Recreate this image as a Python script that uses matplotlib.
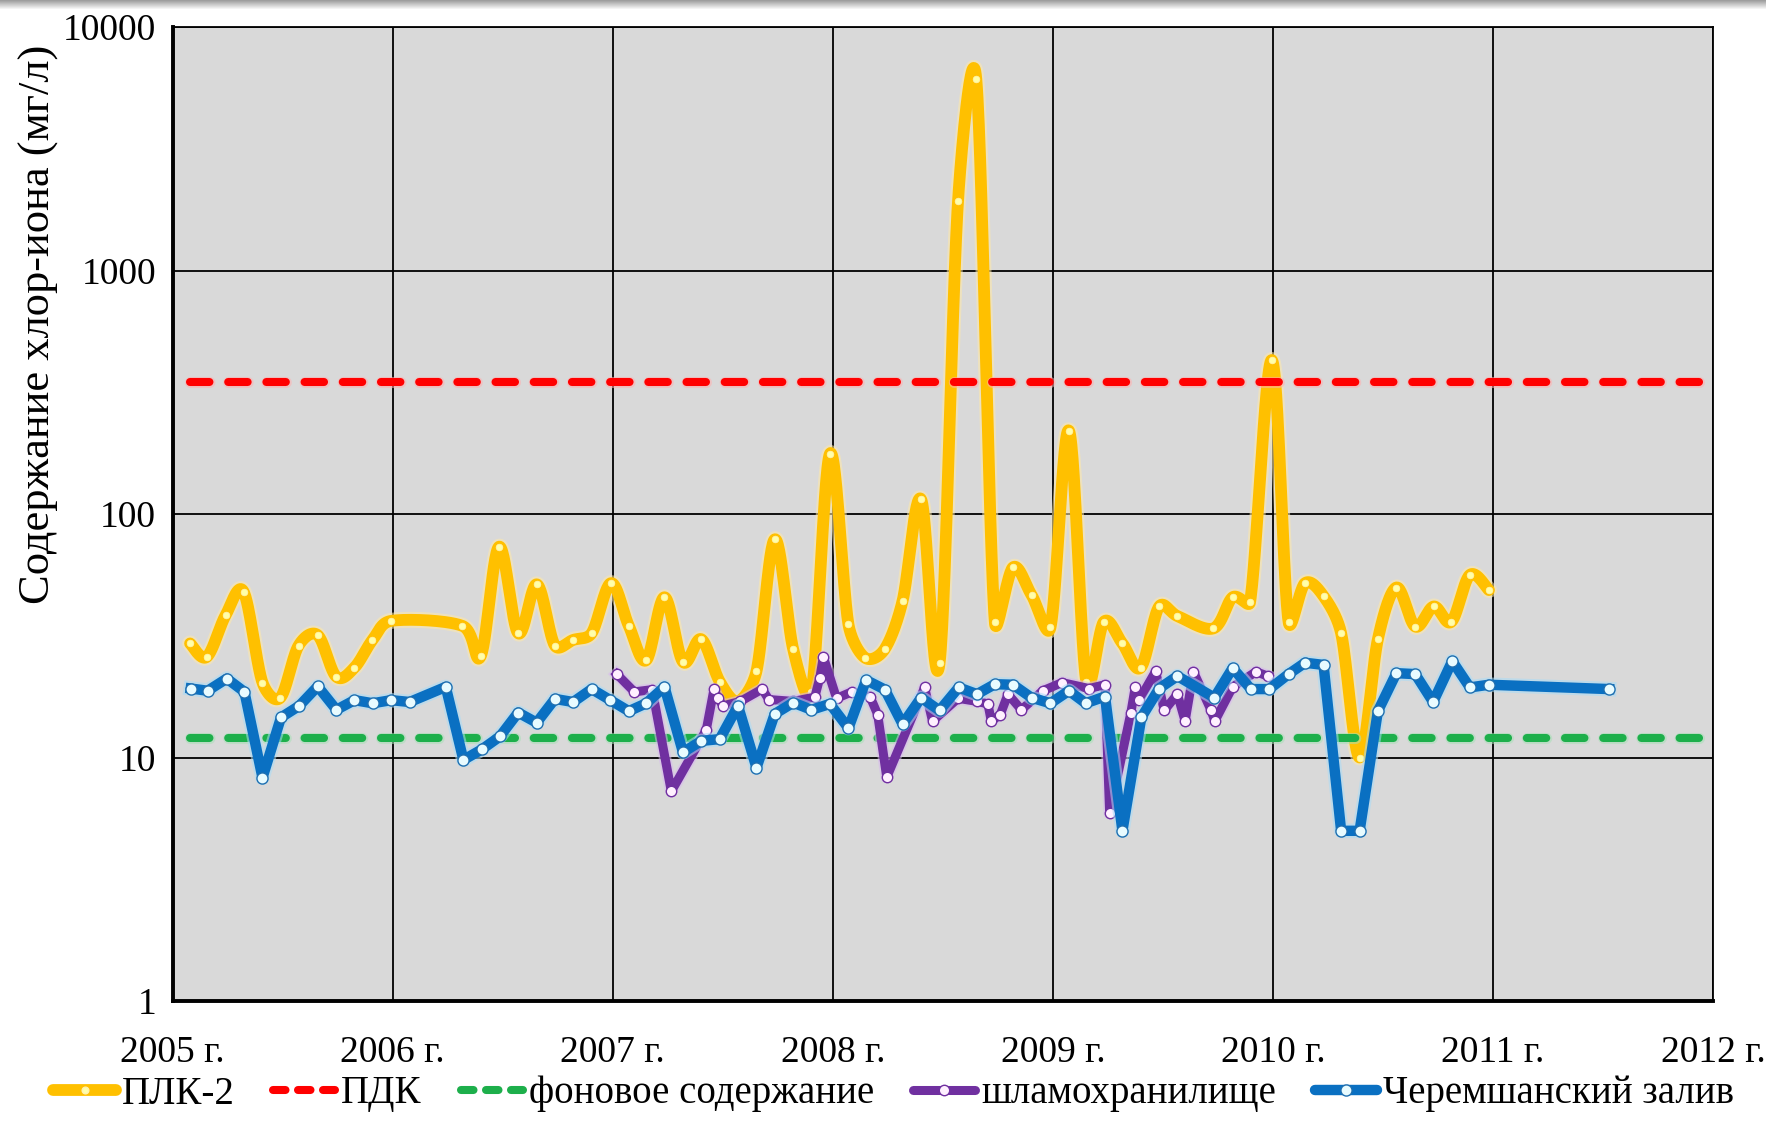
import numpy as np
import matplotlib
matplotlib.use("Agg")
import matplotlib.pyplot as plt
import matplotlib.patheffects as pe
from matplotlib.lines import Line2D
from matplotlib.ticker import FixedLocator, NullLocator

plt.rcParams['font.family'] = ['Liberation Serif', 'DejaVu Serif']
plt.rcParams['lines.scale_dashes'] = False

# ---- data: chloride-ion content, mg/l (decimal years) ----
plk2_t = [2005.079, 2005.155, 2005.241, 2005.322, 2005.408, 2005.489, 2005.572, 2005.659,
          2005.743, 2005.826, 2005.908, 2005.993, 2006.317, 2006.400, 2006.483, 2006.570,
          2006.655, 2006.737, 2006.820, 2006.904, 2006.992, 2007.073, 2007.152, 2007.235,
          2007.319, 2007.402, 2007.486, 2007.569, 2007.653, 2007.736, 2007.820, 2007.903,
          2007.987, 2008.071, 2008.146, 2008.235, 2008.317, 2008.401, 2008.485, 2008.569,
          2008.652, 2008.736, 2008.819, 2008.903, 2008.989, 2009.073, 2009.152, 2009.232,
          2009.316, 2009.399, 2009.483, 2009.566, 2009.729, 2009.817, 2009.896, 2009.995,
          2010.071, 2010.146, 2010.230, 2010.310, 2010.394, 2010.477, 2010.561, 2010.647,
          2010.731, 2010.811, 2010.895, 2010.982]
plk2_v = [29.4, 25.9, 38.5, 48, 20.3, 17.6, 28.8, 31.8,
          21.5, 23.4, 30.4, 36.4, 34.7, 26.1, 73.4, 32.4,
          51.4, 28.8, 30.4, 32.4, 52, 34.7, 25.1, 45.5,
          24.7, 30.6, 20.5, 17, 22.6, 78.7, 27.8, 18.5,
          177, 35.2, 25.7, 27.8, 44, 115, 24.4, 1936,
          6100, 36.1, 60.4, 46.5, 34.2, 220, 20.5, 36.1,
          29.4, 23.4, 41.7, 38.1, 33.9, 45.5, 43.4, 429,
          36.1, 52, 46, 32.4, 10.0, 30.6, 49.9, 34.5,
          41.7, 36.1, 56.2, 48.7]

shlam_t = [2007.018, 2007.098, 2007.179, 2007.266, 2007.425, 2007.460, 2007.478, 2007.501,
           2007.580, 2007.679, 2007.709, 2007.820, 2007.918, 2007.941, 2007.957, 2008.017,
           2008.086, 2008.169, 2008.204, 2008.245, 2008.417, 2008.453, 2008.569, 2008.655,
           2008.705, 2008.720, 2008.761, 2008.796, 2008.857, 2008.954, 2009.042, 2009.164,
           2009.237, 2009.258, 2009.354, 2009.374, 2009.392, 2009.467, 2009.506, 2009.566,
           2009.601, 2009.639, 2009.718, 2009.736, 2009.817, 2009.923, 2009.976]
shlam_v = [22, 18.6, 19, 7.26, 13.0, 19.1, 17.5, 16.3,
           17, 19.1, 17.3, 17, 17.7, 21.3, 25.9, 17.5,
           18.6, 17.8, 15, 8.3, 19.4, 14.1, 17.5, 17,
           16.6, 14.1, 15.0, 18.2, 15.7, 18.8, 20.3, 19.2,
           19.9, 5.9, 15.2, 19.4, 17.2, 22.6, 15.6, 18.2,
           14.1, 22.5, 15.7, 14.1, 19.5, 22.5, 21.6]

cherem_t = [2005.082, 2005.159, 2005.246, 2005.326, 2005.408, 2005.492, 2005.575, 2005.659,
            2005.744, 2005.826, 2005.909, 2005.993, 2006.077, 2006.241, 2006.321, 2006.405,
            2006.487, 2006.570, 2006.654, 2006.737, 2006.820, 2006.904, 2006.989, 2007.073,
            2007.152, 2007.235, 2007.319, 2007.402, 2007.486, 2007.569, 2007.653, 2007.736,
            2007.820, 2007.903, 2007.987, 2008.071, 2008.151, 2008.237, 2008.317, 2008.401,
            2008.485, 2008.572, 2008.655, 2008.736, 2008.819, 2008.903, 2008.989, 2009.073,
            2009.149, 2009.237, 2009.316, 2009.402, 2009.483, 2009.566, 2009.734, 2009.817,
            2009.900, 2009.984, 2010.071, 2010.146, 2010.230, 2010.310, 2010.394, 2010.477,
            2010.561, 2010.647, 2010.728, 2010.815, 2010.895, 2010.982, 2011.528]
cherem_v = [19.2, 18.8, 21.1, 18.6, 8.26, 14.6, 16.3, 19.6,
            15.7, 17.2, 16.7, 17.2, 16.9, 19.5, 9.77, 10.8,
            12.2, 15.3, 13.9, 17.4, 16.9, 19.1, 17.2, 15.5,
            16.7, 19.5, 10.5, 11.7, 11.9, 16.3, 9.08, 15.1,
            16.8, 15.7, 16.6, 13.2, 20.8, 19.0, 13.7, 17.6,
            15.6, 19.4, 18.2, 20.0, 19.9, 17.6, 16.7, 18.8,
            16.7, 17.8, 5.0, 14.6, 19.2, 21.6, 17.6, 23.3,
            19.1, 19.1, 22.0, 24.5, 24.0, 5.0, 5.0, 15.5,
            22.2, 22.0, 16.9, 24.9, 19.4, 19.9, 19.1]

pdk_value = 350          # maximum permissible concentration
background_value = 12    # background content
ref_span = [2005.08, 2012.0]

year_ticks = [2005, 2006, 2007, 2008, 2009, 2010, 2011, 2012]
year_labels = [f"{y} г." for y in year_ticks]
y_ticks = [1, 10, 100, 1000, 10000]
y_labels = ["1", "10", "100", "1000", "10000"]

legend_labels = ["ПЛК-2", "ПДК", "фоновое содержание", "шламохранилище", "Черемшанский залив"]
y_title = "Содержание хлор-иона (мг/л)"

# ---- colours ----
c_yellow = "#FFC000"
c_red = "#FF0000"
c_green = "#1DAF4B"
c_purple = "#7030A0"
c_blue = "#0A70C2"


def smooth_curve(t, v, n=30, xscale=0.9, limit=0.4):
    """Bezier smoothing in (time, log10 value) space, with control arms
    limited relative to the segment length to keep overshoot modest."""
    x = np.asarray(t, float) * xscale
    y = np.log10(np.asarray(v, float))
    pts = np.column_stack([x, y])
    out = [pts[0]]
    m = len(pts)
    s = np.linspace(0, 1, n)[1:, None]
    for i in range(m - 1):
        p0 = pts[i - 1] if i > 0 else pts[i]
        p1 = pts[i]
        p2 = pts[i + 1]
        p3 = pts[i + 2] if i + 2 < m else pts[i + 1]
        seg_len = np.hypot(*(p2 - p1))
        d1 = (p2 - p0) / 6.0
        d2 = (p3 - p1) / 6.0
        for d in (d1, d2):
            ln = np.hypot(*d)
            if ln > limit * seg_len and ln > 0:
                d *= limit * seg_len / ln
        c1 = p1 + d1
        c2 = p2 - d2
        seg = ((1 - s) ** 3) * p1 + 3 * ((1 - s) ** 2) * s * c1 + 3 * (1 - s) * s ** 2 * c2 + s ** 3 * p2
        out.extend(seg)
    out = np.array(out)
    return out[:, 0] / xscale, 10 ** out[:, 1]


W, H = 1766, 1121
fig = plt.figure(figsize=(W / 100, H / 100), dpi=100)
fig.patch.set_facecolor("white")

# soft grey band along the top edge
band = np.linspace(0.62, 1.0, 10)[:, None, None] * np.ones((10, W, 3))
fig.figimage(band, xo=0, yo=H - 10, origin="upper", zorder=0)

L, R, T, B = 172.7, 1713.0, 27.0, 1001.0
ax = fig.add_axes([L / W, 1 - B / H, (R - L) / W, (B - T) / H])
ax.set_facecolor("#D9D9D9")
ax.set_yscale("log")
ax.set_xlim(2005, 2012)
ax.set_ylim(1, 10000)

ax.xaxis.set_major_locator(FixedLocator(year_ticks))
ax.set_xticklabels(year_labels)
ax.yaxis.set_major_locator(FixedLocator(y_ticks))
ax.yaxis.set_minor_locator(NullLocator())
ax.set_yticklabels(y_labels)
ax.tick_params(axis="both", length=0, labelsize=27, colors="black")
ax.tick_params(axis="x", pad=25)
ax.tick_params(axis="y", pad=12)

ax.grid(True, which="major", color="black", linewidth=1.3)
ax.set_axisbelow(True)
for side in ("top", "right"):
    ax.spines[side].set_linewidth(1.3)
for side in ("left", "bottom"):
    ax.spines[side].set_linewidth(2.8)

halo = lambda col, w: [pe.Stroke(linewidth=w, foreground=col, alpha=0.55), pe.Normal()]

# ПЛК-2 (smoothed)
sx, sy = smooth_curve(plk2_t, plk2_v)
ax.plot(sx, sy, color=c_yellow, lw=8.5, solid_capstyle="round", zorder=3,
        path_effects=halo("#FFE9A8", 11.5))
ax.plot(plk2_t, plk2_v, ls="none", marker="o", ms=4.8, mfc="#FFFFA8", mec="#FFF2B0",
        mew=0.5, zorder=3.1)

# ПДК and background level
ax.plot(ref_span, [pdk_value] * 2, color=c_red, lw=5.8, dashes=(14, 13.5),
        dash_capstyle="round", zorder=4, path_effects=halo("#FFB0B0", 8))
ax.plot(ref_span, [background_value] * 2, color=c_green, lw=5.8, dashes=(14, 13.5),
        dash_capstyle="round", zorder=4, path_effects=halo("#A8E0B8", 8))

# шламохранилище
ax.plot(shlam_t, shlam_v, color=c_purple, lw=6.5, solid_joinstyle="round", zorder=5,
        path_effects=halo("#D8B8F0", 9))
ax.plot(shlam_t, shlam_v, ls="none", marker="o", ms=7.5, mfc="#FFF0FF", mec=c_purple,
        mew=1.0, zorder=5.1)

# Черемшанский залив
ax.plot(cherem_t, cherem_v, color=c_blue, lw=7.5, solid_joinstyle="round", zorder=6,
        path_effects=halo("#A8DCF8", 10.5))
ax.plot(cherem_t, cherem_v, ls="none", marker="o", ms=8, mfc="#E8FBFF", mec="#1F6FB0",
        mew=1.0, zorder=6.1)

fig.text(39 / W, 1 - 324 / H, y_title, rotation=90, ha="center", va="center", fontsize=32)

handles = [
    Line2D([], [], color=c_yellow, lw=8.5, marker="o", ms=4.8, mfc="#FFFFA8", mec="#FFF2B0",
           markevery=[1], solid_capstyle="round"),
    Line2D([], [], color=c_red, lw=5.8, dashes=(9, 9), dash_capstyle="round"),
    Line2D([], [], color=c_green, lw=5.8, dashes=(9, 9), dash_capstyle="round"),
    Line2D([], [], color=c_purple, lw=6.5, marker="o", ms=7.5, mfc="#FFF0FF", mec=c_purple,
           markevery=[1], solid_capstyle="round"),
    Line2D([], [], color=c_blue, lw=7.5, marker="o", ms=8, mfc="#E8FBFF", mec="#1F6FB0",
           markevery=[1], solid_capstyle="round"),
]
for h in handles:
    h.set_xdata([0, 0.5, 1])
leg = fig.legend(handles, legend_labels, loc="center", bbox_to_anchor=(0.506, 1 - 1094 / H),
                 ncol=5, frameon=False, fontsize=28, handlelength=1.6, handletextpad=0.15,
                 columnspacing=1.0, borderaxespad=0)

fig.savefig("out.png", dpi=100)
